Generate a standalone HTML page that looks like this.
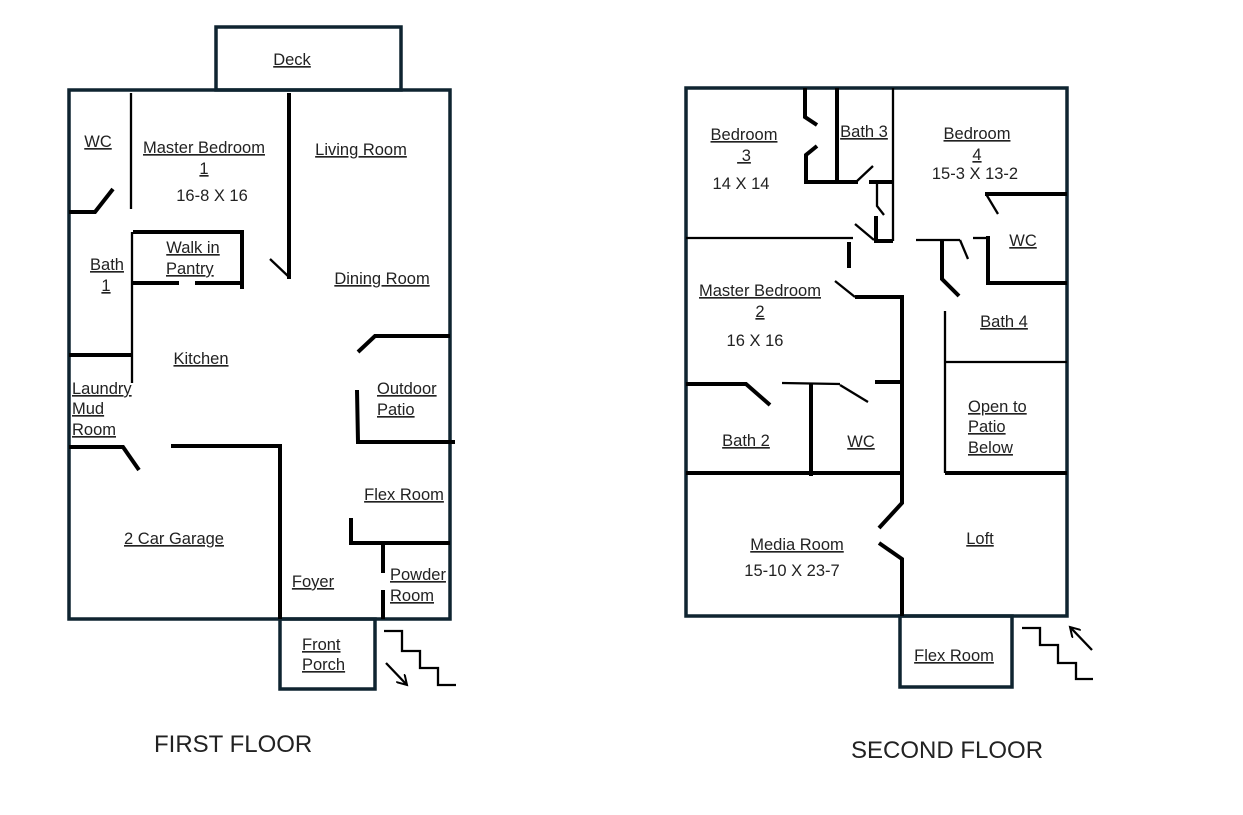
<!DOCTYPE html>
<html><head><style>
html,body{margin:0;padding:0;background:#fff;}
svg{display:block;}
text{font-family:"Liberation Sans",sans-serif;font-size:16.5px;fill:#222;}
.u{text-decoration:underline;}
.o{fill:none;stroke:#0f2430;stroke-width:3.5;}
.t{stroke:#000;stroke-width:4;fill:none;}
.n{stroke:#000;stroke-width:2.3;fill:none;}
</style></head><body>
<svg width="1243" height="815" viewBox="0 0 1243 815">
<defs><marker id="ar" markerWidth="12" markerHeight="12" refX="10" refY="6" orient="auto" markerUnits="userSpaceOnUse"><path d="M0,0 L10,6 L0,12" fill="none" stroke="#000" stroke-width="2"/></marker></defs>
<!-- FIRST FLOOR -->
<rect class="o" x="216" y="27" width="185" height="63"/>
<rect class="o" x="69" y="90" width="381" height="529"/>
<rect class="o" x="280" y="619" width="95" height="70"/>
<polyline class="n" points="384,631 402,631 402,651 420,651 420,668 438,668 438,685 456,685"/>
<line class="n" x1="386" y1="663" x2="407" y2="685" marker-end="url(#ar)"/>
<line class="n" x1="131" y1="93" x2="131" y2="209"/>
<polyline class="t" points="69,212 95,212 113,189"/>
<line class="t" x1="289" y1="93" x2="289" y2="279"/>
<line class="n" x1="270" y1="259" x2="289" y2="277"/>
<polyline class="t" points="133,232 242,232 242,289"/>
<line class="t" x1="133" y1="283" x2="179" y2="283"/>
<line class="t" x1="195" y1="283" x2="243" y2="283"/>
<line class="n" x1="132" y1="232" x2="132" y2="383"/>
<line class="t" x1="69" y1="355" x2="133" y2="355"/>
<polyline class="t" points="358,352 375,336 450,336"/>
<polyline class="t" points="357,390 358,442 455,442"/>
<polyline class="t" points="69,447 123,447 139,470"/>
<polyline class="t" points="171,446 280,446 280,619"/>
<polyline class="t" points="351,518 351,543 450,543"/>
<line class="t" x1="383" y1="543" x2="383" y2="573"/>
<line class="t" x1="383" y1="590" x2="383" y2="619"/>
<!-- SECOND FLOOR -->
<rect class="o" x="686" y="88" width="381" height="528"/>
<rect class="o" x="900" y="616" width="112" height="71"/>
<polyline class="n" points="1022,628 1040,628 1040,645 1058,645 1058,663 1076,663 1076,679 1093,679"/>
<line class="n" x1="1092" y1="650" x2="1070" y2="627" marker-end="url(#ar)"/>
<polyline class="t" points="805,88 805,117 817,125"/>
<polyline class="t" points="817,146 806,155 806,182 858,182"/>
<line class="n" x1="856" y1="182" x2="873" y2="166"/>
<line class="t" x1="837" y1="88" x2="837" y2="180"/>
<line class="n" x1="893" y1="88" x2="893" y2="241"/>
<line class="t" x1="869" y1="182" x2="893" y2="182"/>
<polyline class="n" points="877,182 877,206 884,215"/>
<polyline class="t" points="876,216 876,241 893,241"/>
<line class="n" x1="855" y1="224" x2="874" y2="240"/>
<line class="n" x1="686" y1="238" x2="853" y2="238"/>
<line class="t" x1="849" y1="242" x2="849" y2="268"/>
<line class="n" x1="835" y1="281" x2="855" y2="297"/>
<polyline class="t" points="855,297 902,297 902,503 879,528"/>
<polyline class="t" points="879,543 902,559 902,616"/>
<line class="n" x1="916" y1="240" x2="960" y2="240"/>
<polyline class="t" points="942,240 942,279 959,296"/>
<line class="n" x1="960" y1="240" x2="968" y2="259"/>
<line class="n" x1="973" y1="238" x2="988" y2="238"/>
<polyline class="t" points="988,236 988,283 1067,283"/>
<line class="t" x1="985" y1="194" x2="1067" y2="194"/>
<line class="n" x1="986" y1="194" x2="998" y2="214"/>
<line class="n" x1="945" y1="311" x2="945" y2="473"/>
<line class="n" x1="945" y1="362" x2="1067" y2="362"/>
<line class="t" x1="945" y1="473" x2="1067" y2="473"/>
<polyline class="t" points="686,384 746,384 770,405"/>
<line class="n" x1="782" y1="383" x2="840" y2="384"/>
<line class="n" x1="840" y1="385" x2="868" y2="402"/>
<line class="t" x1="811" y1="384" x2="811" y2="476"/>
<line class="t" x1="875" y1="382" x2="902" y2="382"/>
<line class="t" x1="686" y1="473" x2="902" y2="473"/>
<!-- LABELS first -->
<g text-anchor="middle">
<text class="u" x="292" y="65">Deck</text>
<text class="u" x="98" y="147">WC</text>
<text class="u" x="204" y="153">Master Bedroom</text>
<text class="u" x="204" y="174">1</text>
<text x="212" y="201">16-8 X 16</text>
<text class="u" x="361" y="155">Living Room</text>
<text class="u" x="193" y="253">Walk in</text>
<text class="u" x="107" y="270">Bath</text>
<text class="u" x="106" y="291">1</text>
<text class="u" x="382" y="284">Dining Room</text>
<text class="u" x="201" y="364">Kitchen</text>
<text class="u" x="404" y="500">Flex Room</text>
<text class="u" x="174" y="544">2 Car Garage</text>
<text class="u" x="313" y="587">Foyer</text>
</g>
<text class="u" x="166" y="274">Pantry</text>
<text class="u" x="72" y="394">Laundry</text>
<text class="u" x="72" y="414">Mud</text>
<text class="u" x="72" y="435">Room</text>
<text class="u" x="377" y="394">Outdoor</text>
<text class="u" x="377" y="415">Patio</text>
<text class="u" x="390" y="580">Powder</text>
<text class="u" x="390" y="601">Room</text>
<text class="u" x="302" y="650">Front</text>
<text class="u" x="302" y="670">Porch</text>
<text x="154" y="752" style="font-size:24px">FIRST FLOOR</text>
<!-- LABELS second -->
<g text-anchor="middle">
<text class="u" x="744" y="140">Bedroom</text>
<text class="u" x="744" y="161">&#160;3</text>
<text x="741" y="189">14 X 14</text>
<text class="u" x="864" y="137">Bath 3</text>
<text class="u" x="977" y="139">Bedroom</text>
<text class="u" x="977" y="160">4</text>
<text x="975" y="179">15-3 X 13-2</text>
<text class="u" x="1023" y="246">WC</text>
<text class="u" x="760" y="296">Master Bedroom</text>
<text class="u" x="760" y="317">2</text>
<text x="755" y="346">16 X 16</text>
<text class="u" x="1004" y="327">Bath 4</text>
<text class="u" x="746" y="446">Bath 2</text>
<text class="u" x="861" y="447">WC</text>
<text class="u" x="797" y="550">Media Room</text>
<text x="792" y="576">15-10 X  23-7</text>
<text class="u" x="980" y="544">Loft</text>
<text class="u" x="954" y="661">Flex Room</text>
</g>
<text class="u" x="968" y="412">Open to</text>
<text class="u" x="968" y="432">Patio</text>
<text class="u" x="968" y="453">Below</text>
<text x="851" y="758" style="font-size:24px">SECOND FLOOR</text>
</svg>
</body></html>
